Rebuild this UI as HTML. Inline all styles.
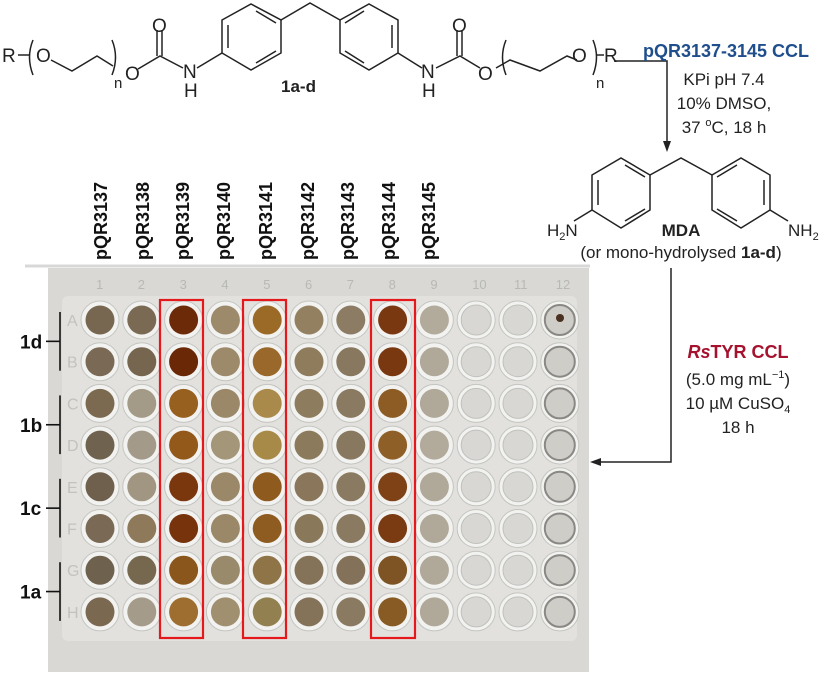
<!DOCTYPE html>
<html><head><meta charset="utf-8"><style>
html,body{margin:0;padding:0;background:#fff;}
body{width:831px;height:672px;overflow:hidden;}
svg text{font-family:"Liberation Sans",sans-serif;}
</style></head><body>
<svg id="s" width="831" height="672" viewBox="0 0 831 672" xmlns="http://www.w3.org/2000/svg">
<g stroke="#222" stroke-width="1.5" fill="none">
<!-- left chain -->
<line x1="18" y1="55" x2="30" y2="55"/>
<path d="M33 40 Q26 57 33 75"/>
<path d="M51 60 L72 71 L97 56 L113 66"/>
<path d="M112 40 Q119 57 112 75"/>
<path d="M138 69 L160 56 L183 68"/>
<line x1="157" y1="30" x2="157" y2="56"/><line x1="162" y1="30" x2="162" y2="56"/>
<line x1="197" y1="68" x2="222" y2="53"/>
<!-- ring1 -->
<path d="M222 20 L251 4 L281 20 L281 53 L251 70 L222 53 Z"/>
<line x1="228" y1="25" x2="228" y2="48"/><line x1="256" y1="11" x2="276" y2="23"/><line x1="256" y1="63" x2="276" y2="51"/>
<path d="M281 20 L310 3 L340 20"/>
<!-- ring2 -->
<path d="M340 20 L369 4 L398 20 L398 53 L369 70 L340 53 Z"/>
<line x1="392" y1="25" x2="392" y2="48"/><line x1="345" y1="23" x2="364" y2="11"/><line x1="345" y1="51" x2="364" y2="63"/>
<line x1="398" y1="53" x2="422" y2="68"/>
<path d="M436 68 L460 56 L480 68"/>
<line x1="457" y1="30" x2="457" y2="56"/><line x1="462" y1="30" x2="462" y2="56"/>
<path d="M506 40 Q499 57 506 75"/>
<path d="M496 68 L510 60 L540 71 L567 56 L577 60"/>
<path d="M593 40 Q600 57 593 75"/>
<line x1="596" y1="55" x2="604" y2="55"/>
<!-- arrow1 -->
<path d="M614 61 L667 61 L667 145"/>
<!-- MDA -->
<path d="M592 175 L621 158 L650 175 L650 210 L621 228 L592 210 Z"/>
<line x1="598" y1="180" x2="598" y2="205"/><line x1="625" y1="165" x2="645" y2="177"/><line x1="625" y1="221" x2="645" y2="209"/>
<path d="M650 175 L681 158 L712 175"/>
<path d="M712 175 L741 158 L770 175 L770 210 L741 228 L712 210 Z"/>
<line x1="764" y1="180" x2="764" y2="205"/><line x1="717" y1="177" x2="737" y2="165"/><line x1="717" y1="209" x2="737" y2="221"/>
<line x1="592" y1="210" x2="574" y2="221"/><line x1="770" y1="210" x2="788" y2="221"/>
<path d="M671 268 L671 462 L598 462"/>
</g>
<polygon points="667,152 663,141 671,141" fill="#222"/>
<polygon points="590,462 601,458 601,466" fill="#222"/>
<g font-size="19" fill="#222">
<text x="2" y="62">R</text>
<text x="36" y="62">O</text>
<text x="125" y="80">O</text>
<text x="114" y="88" font-size="15">n</text>
<text x="152" y="32">O</text>
<text x="183" y="78">N</text>
<text x="184" y="97">H</text>
<text x="421" y="78">N</text>
<text x="422" y="97">H</text>
<text x="452" y="32">O</text>
<text x="478" y="80">O</text>
<text x="572" y="62">O</text>
<text x="596" y="88" font-size="15">n</text>
<text x="604" y="62">R</text>
<text x="281" y="92" font-weight="bold" font-size="17">1a-d</text>
<text x="726" y="57" text-anchor="middle" font-weight="bold" fill="#1f4e8c" font-size="18">pQR3137-3145 CCL</text>
<text x="724" y="85" text-anchor="middle" font-size="17">KPi pH 7.4</text>
<text x="724" y="109" text-anchor="middle" font-size="17">10% DMSO,</text>
<text x="724" y="133" text-anchor="middle" font-size="17">37 <tspan font-size="11" dy="-7">o</tspan><tspan dy="7">C, 18 h</tspan></text>
<text x="547" y="236" font-size="17">H<tspan font-size="11" dy="4">2</tspan><tspan dy="-4">N</tspan></text>
<text x="788" y="236" font-size="17">NH<tspan font-size="11" dy="4">2</tspan></text>
<text x="681" y="236" text-anchor="middle" font-weight="bold" font-size="17">MDA</text>
<text x="681" y="258" text-anchor="middle" font-size="17">(or mono-hydrolysed <tspan font-weight="bold">1a-d</tspan>)</text>
<text x="738" y="358" text-anchor="middle" font-weight="bold" fill="#a5122e" font-size="18"><tspan font-style="italic">Rs</tspan>TYR CCL</text>
<text x="738" y="385" text-anchor="middle" font-size="17">(5.0 mg mL<tspan font-size="11" dy="-7">−1</tspan><tspan dy="7">)</tspan></text>
<text x="738" y="409" text-anchor="middle" font-size="17">10 µM CuSO<tspan font-size="11" dy="4">4</tspan></text>
<text x="738" y="433" text-anchor="middle" font-size="17">18 h</text>
</g>
<g id="labels" font-size="18" font-weight="bold" fill="#111"></g>
<line x1="25" y1="266" x2="590" y2="266" stroke="#d8d8d8" stroke-width="3"/>
<rect x="48" y="268" width="541" height="404" fill="#d9d8d4"/>
<rect x="62" y="296" width="515" height="345" fill="#e2e1de" rx="6"/>
<g id="wells"></g>
<g id="rows"></g>
</svg>
<script>
var NS="http://www.w3.org/2000/svg",s=document.getElementById('s');
function el(p,t,a,txt){var e=document.createElementNS(NS,t);for(var k in a)e.setAttribute(k,a[k]);if(txt)e.textContent=txt;p.appendChild(e);return e;}
var L=document.getElementById('labels');
var lx=[100,142,182,223,265,307,347,388,428];
for(var i=0;i<9;i++){el(L,'text',{x:0,y:0,transform:'translate('+(lx[i]+7)+',260) rotate(-90)'},'pQR'+(3137+i));}
var C=[
['#776750','#7a6a55','#7c6a50','#6f634f','#6e604c','#7a6a55','#6e624f','#7a6850'],
['#7a6a54','#766650','#a49a88','#a39a8a','#a19682','#8e7a5a','#76684f','#a59b8a'],
['#6c2a08','#6a2806','#97601f','#93591b','#7a360d','#77330c','#8a561c','#9e6e30'],
['#9c8a6a','#9c8a6a','#9a8868','#a49678','#9a8868','#9a8868','#9a8a6c','#a09070'],
['#9a6a26','#99682a','#aa8a4a','#a88a48','#8e5a1e','#8e5c20','#8f7448','#938050'],
['#928060','#8e7c5c','#8e7c5e','#8c7a5c','#8a765a','#8a785a','#857359','#857359'],
['#8c7c64','#887860','#8a7a62','#887860','#8a7a62','#8a7a62','#837259','#8a7a62'],
['#7a3810','#7a3810','#8c5c24','#8e6028','#7e4216','#7a3a12','#7e5424','#885a24'],
['#b2aa9a','#b0a898','#b0a898','#b2aa9a','#b0a898','#b0a898','#b0a898','#b0a898']];
var W=document.getElementById('wells');
for(var c=0;c<12;c++){var x=100+c*41.8;
 el(W,'text',{x:x-4,y:289,'font-size':13,fill:'#b8b8b4'},String(c+1));
 for(var r=0;r<8;r++){var y=320+r*41.7;
  el(W,'circle',{cx:x,cy:y,r:19,fill:'#f2f2f0',stroke:'#c4c4c0','stroke-width':1});
  var col=c<9?C[c][r]:(c<11?'#d8d7d3':'#cfcdc8');
  el(W,'circle',{cx:x,cy:y,r:c<9?14.5:15,fill:col,stroke:c<9?'none':(c==11?'#8a8884':'#c0c0bc'),'stroke-width':c==11?2:1});
 }}
el(W,'circle',{cx:560,cy:318,r:4,fill:'#4a3020'});
var let='ABCDEFGH';for(var r=0;r<8;r++)el(W,'text',{x:67,y:326+r*41.7,'font-size':16,fill:'#c2c2be'},let[r]);
[[160,203],[243,286],[371,415]].forEach(function(b){el(W,'rect',{x:b[0],y:300,width:b[1]-b[0],height:338,fill:'none',stroke:'#e5191c','stroke-width':2.2});});
var R=document.getElementById('rows');
[['1d',0],['1b',2],['1c',4],['1a',6]].forEach(function(a){var y1=320+a[1]*41.7-8,y2=320+(a[1]+1)*41.7+9,m=(y1+y2)/2;
 el(R,'rect',{x:0,y:y1-4,width:46,height:y2-y1+8,fill:'#fff'});
 el(R,'line',{x1:60,y1:y1,x2:60,y2:y2,stroke:'#111','stroke-width':1.6});
 el(R,'line',{x1:46,y1:m,x2:60,y2:m,stroke:'#111','stroke-width':1.6});
 el(R,'text',{x:20,y:m+7,'font-size':19,'font-weight':'bold',fill:'#111'},a[0]);});
</script>
</body></html>
